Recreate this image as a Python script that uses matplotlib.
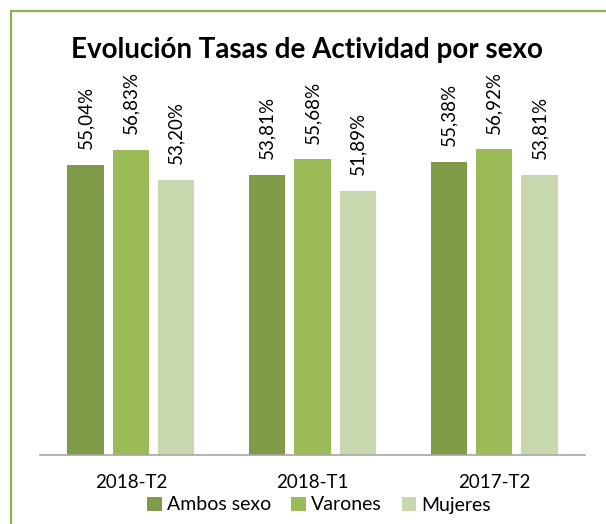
import matplotlib.pyplot as plt
import numpy as np
from matplotlib.patches import Patch

plt.rcParams['font.family'] = ['Lato', 'DejaVu Sans']

# ===================== DATA =====================
categories = ["2018-T2", "2018-T1", "2017-T2"]
series_names = ["Ambos sexo", "Varones", "Mujeres"]
ambos = [55.04, 53.81, 55.38]
varones = [56.83, 55.68, 56.92]
mujeres = [53.20, 51.89, 53.81]
colors = ["#809B48", "#9BBB59", "#C8D7AE"]

fig = plt.figure(figsize=(6.06, 5.24), dpi=100)
W, H = 606, 524

# outer green frame (only top/left visible in reference)
fig.patches.append(plt.Rectangle((10.5 / W, -0.05), 1.2, 1.05 - 10.5 / H,
                                 transform=fig.transFigure, fill=False,
                                 edgecolor="#8DB053", linewidth=1.6))

ax = fig.add_axes([40 / W, (H - 455) / H, (585 - 40) / W, (455 - 123.4) / H])
x = np.arange(len(categories))
bw = 0.2
pitch = 0.25
for i, (vals, name) in enumerate(zip([ambos, varones, mujeres], series_names)):
    pos = x + (i - 1) * pitch
    ax.bar(pos, vals, width=bw, color=colors[i], label=name, zorder=2)
    for p, v in zip(pos, vals):
        ax.annotate(f"{v:.2f}%".replace(".", ","), (p, v), xytext=(0, 11),
                    textcoords="offset points", rotation=90, ha="center",
                    va="bottom", fontsize=13.5, color="#000000",
                    annotation_clip=False)

ax.set_ylim(20, 60)
ax.set_xlim(-0.5, 2.5)
ax.set_yticks([])
ax.set_xticks(x)
ax.set_xticklabels(categories, fontsize=13.5)
ax.tick_params(axis="x", length=0, pad=14)
for s in ["top", "right", "left"]:
    ax.spines[s].set_visible(False)
ax.spines["bottom"].set_color("#A6A6A6")
ax.spines["bottom"].set_linewidth(1.2)

fig.text(307 / W, (H - 50) / H, "Evolución Tasas de Actividad por sexo",
         ha="center", va="center", fontsize=20, fontweight="bold")

handles = [Patch(facecolor=c, label=n) for c, n in zip(colors, series_names)]
fig.legend(handles=handles, loc="center", bbox_to_anchor=(319 / W, (H - 505) / H),
           ncol=3, frameon=False, fontsize=14, handlelength=0.75, handleheight=0.75,
           handletextpad=0.25, columnspacing=1.05, borderpad=0)

fig.savefig("out.png", dpi=100)
